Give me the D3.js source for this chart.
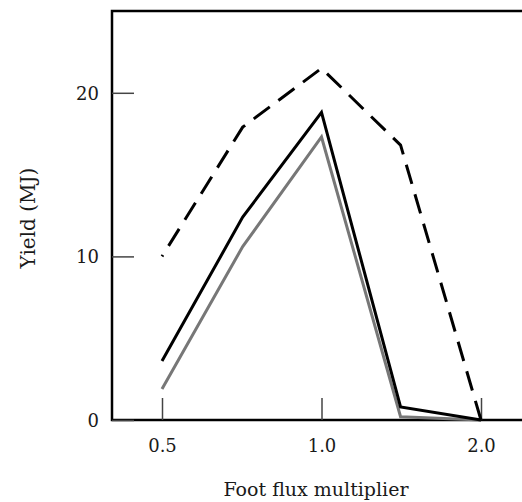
<!DOCTYPE html>
<html lang="en">
<head>
  <meta charset="utf-8">
  <title>Yield vs foot flux</title>
  <script type="text/javascript" src="https://d3js.org/d3.v7.min.js"></script>
  <style type="text/css">
    body { margin: 0; background: #fff; }
    text { font-family: "DejaVu Serif", serif; fill: #1a1a1a; }
    .frame { fill: none; stroke: #000; stroke-width: 2.5; }
    .tick line { stroke: #444; stroke-width: 1.5; }
    .dashedLine { fill: none; stroke: #000; stroke-width: 3; stroke-dasharray: 20,10.75; }
    .blackLine { fill: none; stroke: #000; stroke-width: 3; }
    .grayLine { fill: none; stroke: #777; stroke-width: 3; }
  </style>
</head>
<body>
  <script type="text/javascript">
  // data
  var fluxMultiplier = [0.5, 0.71, 1.0, 1.41, 2.0];
  var dashedYield = [10.0, 17.9, 21.5, 16.8, 0.0];
  var blackYield  = [3.6, 12.4, 18.8, 0.8, 0.0];
  var grayYield   = [1.9, 10.6, 17.3, 0.2, 0.0];

  var xTickValues = [0.5, 1.0, 2.0];
  var yTickValues = [0, 10, 20];

  var w = 522;
  var h = 502;
  var plotLeft = 112, plotTop = 11, plotBottom = 420, plotRight = 524;

  var svg = d3.select("body").append("svg")
    .attr("width", w)
    .attr("height", h);

  var xScale = d3.scaleLog().base(2)
    .domain([0.5, 2.0])
    .range([162, 481]);

  var yScale = d3.scaleLinear()
    .domain([0, 25])
    .range([plotBottom, plotTop]);

  // frame
  svg.append("rect")
    .attr("class", "frame")
    .attr("x", plotLeft)
    .attr("y", plotTop)
    .attr("width", plotRight - plotLeft)
    .attr("height", plotBottom - plotTop);

  // y ticks drawn inward
  var yAxis = d3.axisRight(yScale)
    .tickValues(yTickValues)
    .tickSize(22)
    .tickFormat("");
  var yg = svg.append("g").attr("transform", "translate(" + plotLeft + ",0)").call(yAxis);
  yg.select(".domain").remove();

  yg.selectAll(".tick").append("text")
    .attr("x", -13)
    .attr("dy", "0.35em")
    .attr("text-anchor", "end")
    .style("font-size", "18px")
    .text(function(d) { return d; });

  var xAxis = d3.axisTop(xScale)
    .tickValues(xTickValues)
    .tickSize(22)
    .tickFormat("");
  var xg = svg.append("g").attr("transform", "translate(0," + plotBottom + ")").call(xAxis);
  xg.select(".domain").remove();

  xg.selectAll(".tick").append("text")
    .attr("y", 32)
    .attr("text-anchor", "middle")
    .style("font-size", "18px")
    .text(function(d) { return d3.format(".1f")(d); });

  var line = function(values) {
    return d3.line()
      .x(function(d, i) { return xScale(fluxMultiplier[i]); })
      .y(function(d) { return yScale(d); })(values);
  };

  svg.append("path").attr("class", "grayLine").attr("d", line(grayYield));
  svg.append("path").attr("class", "blackLine").attr("d", line(blackYield));

  // dashes start from the right end in the original
  var dashedPts = fluxMultiplier.map(function(x, i) { return [x, dashedYield[i]]; }).reverse();
  svg.append("path")
    .attr("class", "dashedLine")
    .attr("d", d3.line()
      .x(function(d) { return xScale(d[0]); })
      .y(function(d) { return yScale(d[1]); })(dashedPts));

  // axis titles
  svg.append("text")
    .attr("x", 316)
    .attr("y", 496)
    .attr("text-anchor", "middle")
    .style("font-size", "19px")
    .text("Foot flux multiplier");

  svg.append("text")
    .attr("transform", "translate(35,218) rotate(-90)")
    .attr("text-anchor", "middle")
    .style("font-size", "20px")
    .text("Yield (MJ)");
  </script>
</body>
</html>
